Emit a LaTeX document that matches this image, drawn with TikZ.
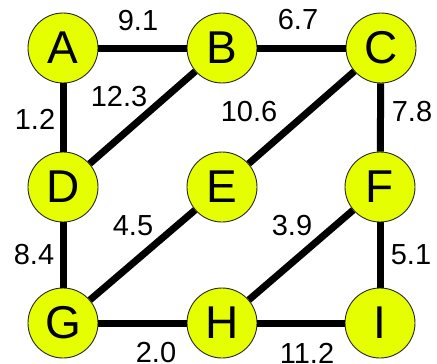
\documentclass[tikz,border=0pt]{standalone}
\usepackage{fontspec}
\setmainfont{Liberation Sans}
\definecolor{nodeyellow}{HTML}{E6FF00}
\begin{document}
\begin{tikzpicture}[x=1pt,y=-1pt,
  vtx/.style={circle,draw=black!85,line width=0.9pt,fill=nodeyellow,minimum size=70pt,inner sep=0pt,font=\fontsize{46}{46}\selectfont},
  lbl/.style={inner sep=0pt,font=\fontsize{29}{29}\selectfont},
  edge/.style={line width=7pt}]
\useasboundingbox (0,0) rectangle (437,364);
\node[vtx] (A) at (63,48) {A};
\node[vtx] (B) at (222,48) {B};
\node[vtx] (C) at (381,48) {C};
\node[vtx] (D) at (63,187) {D};
\node[vtx] (E) at (222,187) {E};
\node[vtx] (F) at (380,187) {F};
\node[vtx] (G) at (63,323) {G};
\node[vtx] (H) at (222,323) {H};
\node[vtx] (I) at (380,323) {I};
\draw[edge] (A) -- (B);
\draw[edge] (B) -- (C);
\draw[edge] (A) -- (D);
\draw[edge] (B) -- (D);
\draw[edge] (C) -- (E);
\draw[edge] (C) -- (F);
\draw[edge] (D) -- (G);
\draw[edge] (E) -- (G);
\draw[edge] (F) -- (H);
\draw[edge] (F) -- (I);
\draw[edge] (G) -- (H);
\draw[edge] (H) -- (I);
\node[lbl] (lAB) at (138,21) {9.1};
\node[lbl] (lBC) at (298,20) {6.7};
\node[lbl] (lBD) at (119,97) {12.3};
\node[lbl] (lAD) at (35,119) {1.2};
\node[lbl] (lCE) at (249,112) {10.6};
\node[lbl] (lCF) at (412,112) {7.8};
\node[lbl] (lEG) at (133,226) {4.5};
\node[lbl] (lFH) at (292,226) {3.9};
\node[lbl] (lDG) at (34,255) {8.4};
\node[lbl] (lFI) at (411,255) {5.1};
\node[lbl] (lGH) at (156,353) {2.0};
\node[lbl] (lHI) at (307,353) {11.2};
\end{tikzpicture}
\end{document}
